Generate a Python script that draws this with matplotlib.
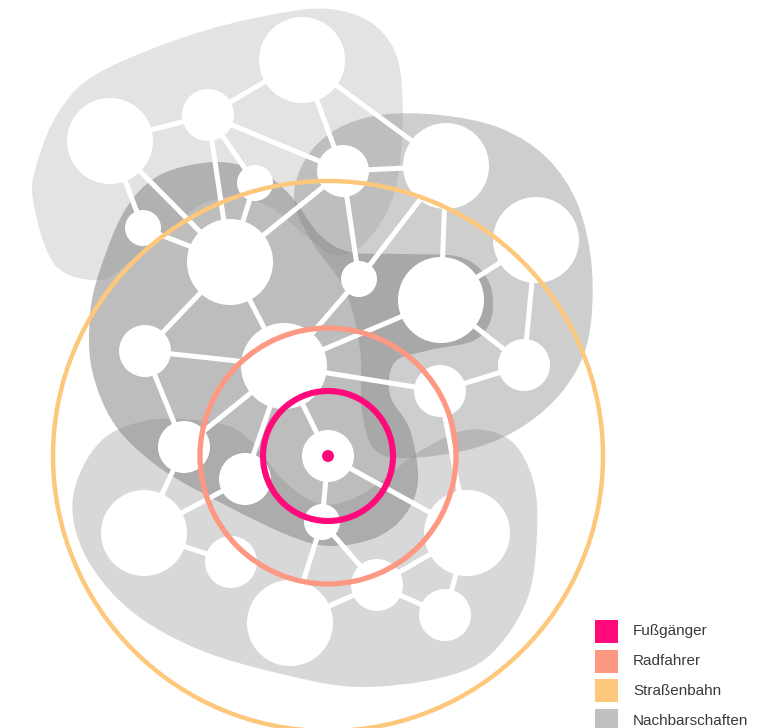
import numpy as np
import matplotlib.pyplot as plt
from matplotlib.path import Path
from matplotlib.patches import PathPatch, Circle, Rectangle

plt.rcParams['font.family'] = ['Liberation Sans', 'DejaVu Sans']

# Network nodes (drawing coordinates, y grows downwards) and their sizes
node_x = [110, 208, 302, 255, 143, 230, 343, 446, 536, 441, 359, 524, 440,
          145, 284, 184, 245, 328, 322, 144, 231, 290, 377, 445, 467]
node_y = [141, 115, 60, 183, 228, 262, 171, 166, 240, 300, 279, 365, 391,
          351, 366, 447, 479, 456, 522, 533, 562, 623, 585, 615, 533]
node_r = [43, 26, 43, 18, 18, 43, 26, 43, 43, 43, 18, 26, 26,
          26, 43, 26, 26, 26, 18, 43, 26, 43, 26, 26, 43]

# Links between nodes (1-based node numbers)
edges = [(1, 2), (2, 3), (1, 5), (1, 6), (2, 6), (2, 4), (2, 7), (3, 7), (3, 8),
         (4, 6), (5, 6), (6, 7), (7, 8), (7, 11), (11, 8), (11, 15), (8, 10),
         (9, 10), (9, 12), (10, 12), (10, 15), (12, 13), (13, 15), (13, 25),
         (6, 14), (6, 15), (14, 15), (14, 16), (15, 16), (15, 17), (15, 18),
         (18, 19), (18, 25), (16, 20), (17, 20), (20, 21), (19, 22), (19, 23),
         (22, 23), (23, 24), (23, 25), (24, 25)]

# Neighbourhood outlines
hood_top_left = [(33, 200), (38, 160), (60, 110), (100, 72), (200, 32), (300, 10),
                 (350, 13), (383, 33), (400, 70), (402, 140), (392, 200), (365, 243),
                 (335, 255), (305, 235), (270, 207), (235, 197), (200, 205),
                 (165, 235), (130, 262), (100, 280), (55, 265)]
hood_centre = [(100, 270), (125, 210), (160, 175), (215, 162), (260, 172), (290, 195),
               (320, 235), (350, 252), (400, 254), (460, 257), (488, 280), (492, 315),
               (475, 340), (430, 350), (395, 362), (390, 395), (410, 430), (418, 480),
               (405, 515), (375, 538), (330, 546), (290, 536), (225, 505),
               (160, 468), (115, 425), (92, 370), (90, 315)]
hood_right = [(380, 115), (440, 115), (500, 128), (547, 158), (578, 205), (592, 270),
              (588, 340), (565, 388), (525, 425), (475, 448), (410, 458), (375, 450),
              (362, 410), (360, 350), (345, 290), (312, 242), (294, 200), (305, 160),
              (335, 130)]
hood_bottom = [(73, 497), (100, 442), (150, 420), (217, 423), (250, 440), (283, 480),
               (317, 503), (350, 500), (383, 480), (417, 453), (467, 430), (510, 440),
               (533, 480), (537, 533), (527, 600), (490, 655), (440, 678), (360, 687),
               (290, 676), (200, 650), (130, 610), (85, 555)]

# Reach around the home node
centre_node = 18
reach_radius = [65, 128, 275]
reach_labels = ['Fußgänger', 'Radfahrer', 'Straßenbahn', 'Nachbarschaften']
reach_colors = ['#ff0a7a', '#fd9882', '#fec87c', '#c0c0c0']


def smooth_closed(points):
    # Catmull-Rom outline turned into cubic bezier segments
    p = np.asarray(points, dtype=float)
    n = len(p)
    verts = [p[0]]
    codes = [Path.MOVETO]
    for i in range(n):
        p0, p1, p2, p3 = p[i - 1], p[i], p[(i + 1) % n], p[(i + 2) % n]
        verts += [p1 + (p2 - p0) / 6, p2 - (p3 - p1) / 6, p2]
        codes += [Path.CURVE4] * 3
    verts.append(p[0])
    codes.append(Path.CLOSEPOLY)
    return Path(verts, codes)


fig = plt.figure(figsize=(7.75, 7.28), dpi=100)
ax = fig.add_axes([0, 0, 1, 1])
ax.set_xlim(0, 775)
ax.set_ylim(728, 0)
ax.set_aspect('equal')
ax.axis('off')

for pts, a in [(hood_top_left, 0.24), (hood_centre, 0.56),
               (hood_right, 0.41), (hood_bottom, 0.325)]:
    ax.add_patch(PathPatch(smooth_closed(pts), facecolor='#8a8a8a',
                           edgecolor='none', alpha=a, zorder=1))

for a, b in edges:
    ax.plot([node_x[a - 1], node_x[b - 1]], [node_y[a - 1], node_y[b - 1]],
            color='white', lw=3.6, solid_capstyle='butt', zorder=2)

for x, y, r in zip(node_x, node_y, node_r):
    ax.add_patch(Circle((x, y), r, facecolor='white', edgecolor='none', zorder=3))

cx, cy = node_x[centre_node - 1], node_y[centre_node - 1]
ax.add_patch(Circle((cx, cy), 6, facecolor=reach_colors[0], edgecolor='none', zorder=4))
for r, c, w in zip(reach_radius, reach_colors, [4.4, 3.8, 3.2]):
    ax.add_patch(Circle((cx, cy), r, facecolor='none', edgecolor=c, lw=w, zorder=5))

# Legend
for i, (lab, c) in enumerate(zip(reach_labels, reach_colors)):
    yy = 631.5 + i * 29.7
    ax.add_patch(Rectangle((595, yy - 11.5), 23, 23, facecolor=c,
                           edgecolor='none', zorder=6))
    ax.text(633, yy, lab, fontsize=11, color='#3a3a3a', va='center',
            ha='left', zorder=6)

fig.savefig('out.png', dpi=100)
